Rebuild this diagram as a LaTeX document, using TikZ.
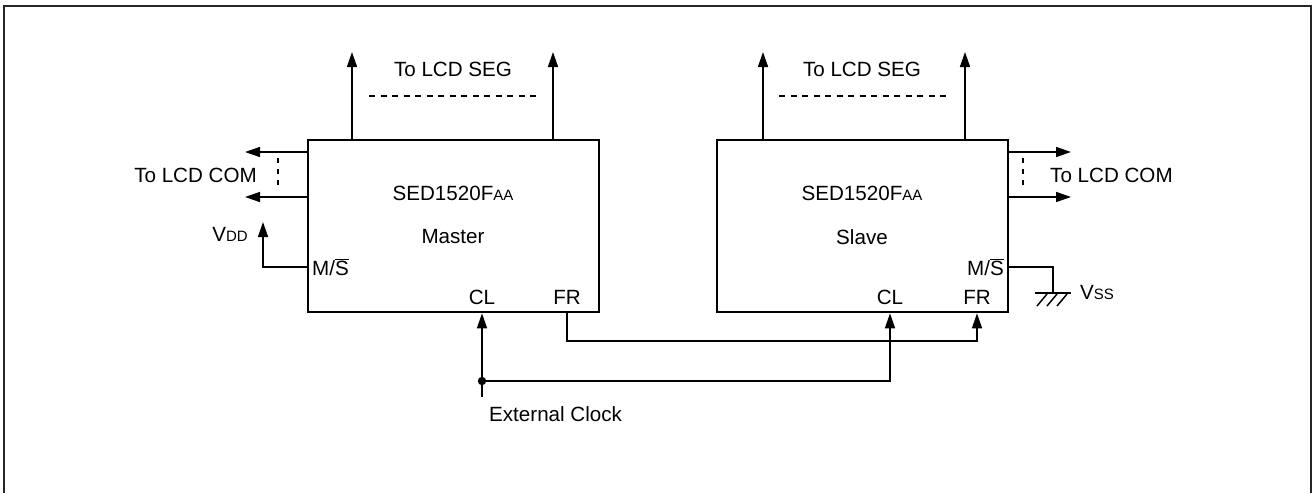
\documentclass[tikz,border=0pt]{standalone}
\usepackage{fontspec}
\setmainfont{Liberation Sans}
\usetikzlibrary{arrows.meta}
\begin{document}
\begin{tikzpicture}[x=1pt,y=-1pt,
  chip/.style={draw,line width=2.6pt,minimum width=291pt,minimum height=172pt,inner sep=0pt},
  wire/.style={line width=1.5pt},
  arr/.style={wire,-{Triangle[length=15pt,width=10pt]}},
  lbl/.style={font=\fontsize{20.6}{24}\selectfont,inner sep=0pt},
  dotline/.style={line width=2pt,dash pattern=on 6pt off 5.5pt},
  dotv/.style={line width=2.2pt,dash pattern=on 5pt off 6pt}]
\useasboundingbox (0,0) rectangle (1314,493);
\draw[line width=2pt, black!85] (4,493) -- (4,6) -- (1311,6) -- (1311,493);

% chips
\node[chip] (m) at (453.5,226) {};
\node[chip] (s) at (862.5,226) {};

% chip texts
\node[lbl] (mname) at (453,193) {SED1520F{\fontsize{15}{18}\selectfont AA}};
\node[lbl] (mrole) at (453,237) {Master};
\node[lbl] (sname) at (862,193) {SED1520F{\fontsize{15}{18}\selectfont AA}};
\node[lbl] (srole) at (862,237) {Slave};
\node[lbl,anchor=west] (mms) at (312,267) {M/$\overline{\hbox{S}}$};
\node[lbl,anchor=east] (sms) at (1004,267) {M/$\overline{\hbox{S}}$};
\node[lbl] (mcl) at (482,297) {CL};
\node[lbl] (mfr) at (567,297) {FR};
\node[lbl] (scl) at (890,297) {CL};
\node[lbl] (sfr) at (977,297) {FR};

% SEG outputs
\coordinate (ms1) at (352,52);
\coordinate (ms2) at (553,52);
\coordinate (ss1) at (763,52);
\coordinate (ss2) at (965,52);
\draw[arr] (m.north -| ms1) -- (ms1);
\draw[arr] (m.north -| ms2) -- (ms2);
\draw[arr] (s.north -| ss1) -- (ss1);
\draw[arr] (s.north -| ss2) -- (ss2);
\node[lbl] (msegt) at (453,69) {To LCD SEG};
\node[lbl] (ssegt) at (862,69) {To LCD SEG};
\coordinate (md1) at (369,96);
\coordinate (md2) at (540,96);
\coordinate (sd1) at (779,96);
\coordinate (sd2) at (950,96);
\draw[dotline] (md1) -- (md2);
\draw[dotline] (sd1) -- (sd2);

% COM outputs
\coordinate (mc1) at (245,152);
\coordinate (mc2) at (245,197);
\draw[arr] (m.west |- mc1) -- (mc1);
\draw[arr] (m.west |- mc2) -- (mc2);
\coordinate (mcv1) at (278,158);
\coordinate (mcv2) at (278,189);
\draw[dotv] (mcv1) -- (mcv2);
\node[lbl,anchor=east] (mcomt) at (257,175) {To LCD COM};

\coordinate (sc1) at (1071,152);
\coordinate (sc2) at (1071,197);
\draw[arr] (s.east |- sc1) -- (sc1);
\draw[arr] (s.east |- sc2) -- (sc2);
\coordinate (scv1) at (1023,158);
\coordinate (scv2) at (1023,189);
\draw[dotv] (scv1) -- (scv2);
\node[lbl,anchor=west] (scomt) at (1050,175) {To LCD COM};

% VDD
\coordinate (vdd) at (263,222);
\draw[arr] (m.west |- mms) -| (vdd);
\node[lbl,anchor=east] (vddt) at (248,234) {V{\fontsize{15}{18}\selectfont DD}};

% VSS ground
\coordinate (gnd) at (1053,293);
\draw[wire] (s.east |- sms) -| (gnd);
\coordinate (gb1) at (1035,293);
\coordinate (gb2) at (1071,293);
\draw[line width=2.4pt] (gb1) -- (gb2);
\foreach \i in {0,1,2} {
  \draw[wire] (1037+\i*10,306) -- (1047+\i*10,294);
}
\node[lbl,anchor=west] (vsst) at (1080,292) {V{\fontsize{15}{18}\selectfont SS}};

% Clock
\coordinate (clkin) at (482,397);
\coordinate (clkdot) at (482,381);
\draw[arr] (clkin) -- (m.south -| clkin);
\fill (clkdot) circle (4.2pt);
\draw[arr] (clkdot) -| (s.south -| scl);
\node[lbl,anchor=west] (extt) at (489,414) {External Clock};

% FR
\coordinate (frbend) at (567,341);
\draw[arr] (m.south -| mfr) -- (frbend) -| (s.south -| sfr);
\end{tikzpicture}
\end{document}
